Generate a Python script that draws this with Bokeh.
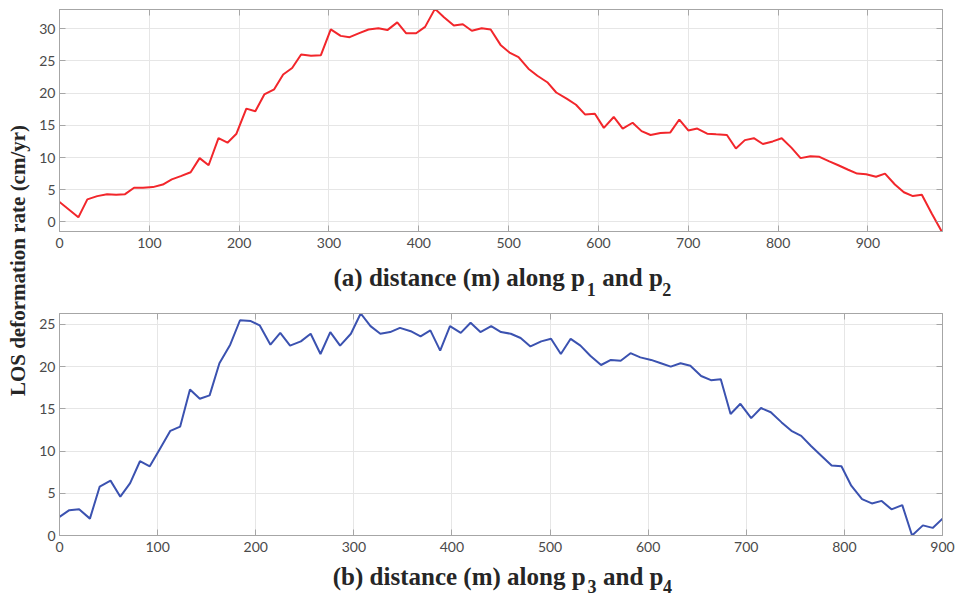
import math
from bokeh.plotting import figure
from bokeh.layouts import row, column
from bokeh.models import Range1d, FixedTicker, LinearAxis, ColumnDataSource
from bokeh.core.properties import value
from bokeh.embed import file_html
from bokeh.resources import INLINE

# ---- data (a): profile along p1 and p2 ----
dist_a = [0, 21, 31, 42, 53, 63, 73, 83, 93, 104, 115, 125, 135, 146, 156, 166, 177, 187, 197, 208,
          218, 228, 239, 249, 259, 269, 280, 291, 302, 313, 323, 333, 344, 355, 365, 376, 386, 397, 407, 418,
          428, 439, 449, 459, 470, 480, 491, 501, 511, 522, 532, 543, 553, 565, 575, 585, 596, 606, 617, 627,
          638, 648, 658, 669, 680, 690, 700, 710, 721, 731, 743, 753, 763, 773, 783, 794, 804, 815, 825, 836,
          846, 857, 867, 878, 888, 898, 909, 919, 930, 940, 950, 960, 971, 982]
rate_a = [3.1, 0.7, 3.5, 4.0, 4.3, 4.2, 4.3, 5.3, 5.3, 5.4, 5.8, 6.6, 7.1, 7.7, 9.9, 8.8, 13.0, 12.3, 13.7, 17.6,
          17.2, 19.8, 20.6, 22.9, 23.9, 26.0, 25.8, 25.9, 29.9, 28.9, 28.7, 29.3, 29.9, 30.1, 29.8, 31.0, 29.3, 29.3, 30.3, 33.1,
          31.8, 30.5, 30.7, 29.7, 30.1, 29.9, 27.5, 26.3, 25.6, 23.8, 22.7, 21.7, 20.1, 19.1, 18.2, 16.7, 16.8, 14.6, 16.3, 14.5,
          15.4, 14.1, 13.5, 13.8, 13.9, 15.9, 14.2, 14.5, 13.7, 13.6, 13.5, 11.4, 12.7, 13.0, 12.1, 12.5, 13.0, 11.5, 9.9, 10.2,
          10.1, 9.4, 8.8, 8.1, 7.5, 7.4, 7.0, 7.5, 5.8, 4.6, 4.0, 4.2, 1.3, -1.45]

# ---- data (b): profile along p3 and p4 ----
dist_b = [0, 10, 20, 31, 41, 52, 62, 72, 82, 92, 102, 113, 123, 133, 143, 153, 163, 174, 184, 195,
          204, 215, 225, 235, 246, 256, 266, 276, 286, 297, 307, 317, 327, 337, 347, 358, 368, 378, 388, 398,
          409, 419, 429, 440, 450, 460, 470, 480, 491, 501, 511, 521, 531, 541, 552, 562, 572, 582, 592, 603,
          613, 623, 633, 643, 654, 664, 674, 684, 694, 705, 715, 725, 736, 746, 756, 766, 777, 787, 797, 807,
          818, 828, 838, 848, 859, 869, 880, 890, 900]
rate_b = [2.2, 3.0, 3.1, 2.0, 5.8, 6.5, 4.6, 6.2, 8.8, 8.2, 10.2, 12.4, 12.9, 17.3, 16.2, 16.6, 20.4, 22.6, 25.5, 25.4,
          24.9, 22.6, 24.0, 22.5, 23.0, 23.9, 21.5, 24.1, 22.5, 23.9, 26.3, 24.8, 23.9, 24.1, 24.6, 24.2, 23.6, 24.3, 21.9, 24.8,
          24.0, 25.2, 24.1, 24.8, 24.1, 23.9, 23.4, 22.4, 23.0, 23.3, 21.5, 23.3, 22.5, 21.3, 20.2, 20.8, 20.7, 21.6, 21.1, 20.8,
          20.4, 20.0, 20.4, 20.1, 18.9, 18.4, 18.5, 14.4, 15.6, 13.9, 15.1, 14.6, 13.4, 12.4, 11.8, 10.6, 9.4, 8.3, 8.2, 5.9,
          4.3, 3.8, 4.1, 3.1, 3.6, 0.0, 1.2, 0.9, 2.0]

x_ticks = [0, 100, 200, 300, 400, 500, 600, 700, 800, 900]
y_ticks_a = [0, 5, 10, 15, 20, 25, 30]
y_ticks_b = [0, 5, 10, 15, 20, 25]
# title pieces: main text, subscript, middle text, subscript
title_a = ["(a) distance (m) along p", "1", "and p", "2"]
title_b = ["(b) distance (m) along p", "3", "and p", "4"]
y_title = "LOS deformation rate (cm/yr)"

AX = "#a6a6a6"
GRID = "#e6e6e6"
TICKTXT = "#4a4a4a"
TICKFONT = "Lato"
SERIF = "Liberation Serif"
TITLE_COLOR = "#262626"
F_MAIN = 25
F_SUB = 18

# Times-Bold advance widths (Liberation Serif Bold is metric compatible), per 1000 em
TB = {' ': 250, '(': 333, ')': 333, 'a': 500, 'b': 556, 'd': 556, 'i': 278, 's': 389, 't': 333,
      'n': 556, 'c': 444, 'e': 444, 'm': 833, 'l': 278, 'o': 500, 'g': 500, 'p': 556}


def tw(s, size):
    return sum(TB.get(ch, 500) for ch in s) * size / 1000.0


FRAME_L, FRAME_W, FIG_W = 22, 884, 921


def make_panel(xs, ys, xr, yr, yt, color, top_border, height, bottom_border):
    p = figure(width=FIG_W, height=height, output_backend="svg", toolbar_location=None,
               x_range=Range1d(*xr), y_range=Range1d(*yr),
               min_border_left=FRAME_L, min_border_right=15, min_border_top=top_border,
               min_border_bottom=bottom_border)
    p.line(xs, ys, line_color=color, line_width=2)
    p.outline_line_color = AX
    p.outline_line_width = 1
    p.xaxis.ticker = FixedTicker(ticks=x_ticks)
    p.yaxis.ticker = FixedTicker(ticks=yt)
    for ax in (p.xaxis[0], p.yaxis[0]):
        ax.axis_line_color = AX
        ax.major_tick_line_color = AX
        ax.major_tick_in = 6
        ax.major_tick_out = 0
        ax.minor_tick_line_color = None
        ax.major_label_text_color = TICKTXT
        ax.major_label_text_font = TICKFONT
        ax.major_label_text_font_size = "14px"
    p.yaxis.major_label_standoff = 4
    p.xaxis.major_label_standoff = 6
    # box ticks on the top and right (no labels)
    top = LinearAxis(ticker=FixedTicker(ticks=x_ticks),
                     major_label_overrides={t: "" for t in x_ticks},
                     major_label_standoff=0, axis_line_color=AX, major_tick_line_color=AX,
                     major_tick_in=6, major_tick_out=0, minor_tick_line_color=None)
    right = LinearAxis(ticker=FixedTicker(ticks=yt),
                       major_label_overrides={t: "" for t in yt},
                       major_label_standoff=0, axis_line_color=AX, major_tick_line_color=AX,
                       major_tick_in=6, major_tick_out=0, minor_tick_line_color=None)
    p.add_layout(top, "above")
    p.add_layout(right, "right")
    p.xgrid.grid_line_color = GRID
    p.ygrid.grid_line_color = GRID
    p.xgrid.ticker = FixedTicker(ticks=x_ticks)
    p.ygrid.ticker = FixedTicker(ticks=yt)
    return p


def make_title(pieces, height, base_from_top, sub_drop):
    t = figure(width=FIG_W, height=height, output_backend="svg", toolbar_location=None,
               x_range=Range1d(0, FIG_W), y_range=Range1d(0, height),
               min_border=0, min_border_left=0, min_border_right=0, min_border_top=0,
               min_border_bottom=0)
    t.axis.visible = False
    t.grid.visible = False
    t.outline_line_color = None
    main, s1, mid, s2 = pieces
    gap = 2.0
    space = tw(" ", F_MAIN)
    w_main, w_s1, w_mid, w_s2 = tw(main, F_MAIN) * 1.025, tw(s1, F_SUB), tw(mid, F_MAIN), tw(s2, F_SUB)
    total = w_main + gap + w_s1 + space + 1 + w_mid + gap + w_s2
    x_main_end = FRAME_L + FRAME_W / 2 - total / 2 + w_main
    x_s1 = x_main_end + gap
    x_mid = x_s1 + w_s1 + space + 1
    x_s2 = x_mid + w_mid + gap
    yb = height - base_from_top
    # main text anchored at its right end so the subscript always follows the "p"
    t.text(x=[x_main_end], y=[yb], text=[main], text_align="right", text_baseline="alphabetic",
           text_font=value(SERIF), text_font_style="bold", text_font_size=f"{F_MAIN}px",
           text_color=TITLE_COLOR)
    t.text(x=[x_mid], y=[yb], text=[mid], text_align="left", text_baseline="alphabetic",
           text_font=value(SERIF), text_font_style="bold", text_font_size=f"{F_MAIN}px",
           text_color=TITLE_COLOR)
    t.text(x=[x_s1, x_s2], y=[yb - sub_drop] * 2, text=[s1, s2], text_align="left",
           text_baseline="alphabetic", text_font=value(SERIF), text_font_style="bold",
           text_font_size=f"{F_SUB}px", text_color=TITLE_COLOR)
    return t


pa = make_panel(dist_a, rate_a, (0, 983), (-1.5, 33.0), y_ticks_a, "#f2262b", 9, 256, 25)
ta = make_title(title_a, 44, 21, 12)
pb = make_panel(dist_b, rate_b, (0, 900), (0, 26.3), y_ticks_b, "#3b52b0", 13, 260, 25)
tb = make_title(title_b, 38, 16, 10)

lab = figure(width=36, height=598, output_backend="svg", toolbar_location=None,
             x_range=Range1d(0, 36), y_range=Range1d(0, 598),
             min_border=0, min_border_left=0, min_border_right=0, min_border_top=0, min_border_bottom=0)
lab.axis.visible = False
lab.grid.visible = False
lab.outline_line_color = None
src = ColumnDataSource(dict(x=[17], y=[598 - 260], t=[y_title]))
lab.text(x="x", y="y", text="t", source=src, angle=math.pi / 2, text_align="center",
         text_baseline="middle", text_font=value(SERIF), text_font_style="bold",
         text_font_size="21px", text_color=TITLE_COLOR)

layout = row(lab, column(pa, ta, pb, tb))
open("out.html", "w").write(file_html(layout, INLINE))
